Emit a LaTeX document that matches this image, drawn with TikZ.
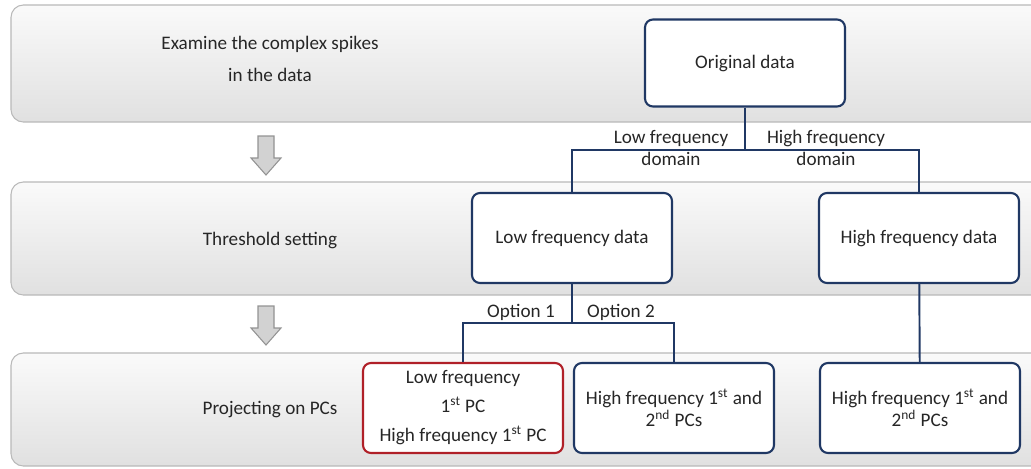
\documentclass[tikz,border=0pt]{standalone}
\usepackage{fontspec}
\setmainfont{Carlito}
\usetikzlibrary{calc}

\definecolor{navy}{RGB}{32,56,100}
\definecolor{darkred}{RGB}{176,32,40}
\definecolor{bandline}{RGB}{185,185,185}

\tikzset{
	band/.style = {draw = bandline, line width = 0.6pt, rounded corners = 7pt, top color = gray!4, bottom color = gray!24},
	box/.style = {draw = navy, line width = 1.2pt, fill = white, rounded corners = 4.5pt, minimum width = 4cm, minimum height = 1.8cm, align = center, text = black!85},
	link/.style = {draw = navy, line width = 1.1pt},
	lbl/.style = {text = black!85, align = center},
	blockarrow/.style = {draw = gray!85, line width = 0.6pt, fill = gray!35}
}

\begin{document}
\begin{tikzpicture}[x = 0.02cm, y = -0.02cm, font = \fontsize{10.9}{12.5}\selectfont]
			\useasboundingbox (0,0) rectangle (1031,468);
			\clip (0,0) rectangle (1031,468);
			
			% bands
			\draw [band] (11,5) rectangle (1050,122);
			\draw [band] (11,182) rectangle (1050,295);
			\draw [band] (11,353) rectangle (1050,466);
			
			\node [lbl] (step1) at (270,59) {Examine the complex spikes\\[5.5pt] in the data};
			\node [lbl] (step2) at (270,240) {Threshold setting};
			\node [lbl] (step3) at (270,410) {Projecting on PCs};
			
			\draw [blockarrow] (258,136) -- ++(16,0) -- ++(0,22) -- ++(7,0) -- ++(-15,17) -- ++(-15,-17) -- ++(7,0) -- cycle;
			\draw [blockarrow] (258,306) -- ++(16,0) -- ++(0,22) -- ++(7,0) -- ++(-15,17) -- ++(-15,-17) -- ++(7,0) -- cycle;
			
			% boxes
			\node [box, minimum height = 1.74cm] (orig) at (745,63) {Original data};
			\node [box] (low) at (572,238) {Low frequency data};
			\node [box] (high) at (919,238) {High frequency data};
			\node [box, draw = darkred] (opt1) at (463,408) {Low frequency\\[4pt] 1\textsuperscript{st} PC\\[4pt] High frequency 1\textsuperscript{st} PC};
			\node [box] (opt2) at (674,408) {High frequency 1\textsuperscript{st} and\\ 2\textsuperscript{nd} PCs};
			\node [box] (hpc) at (920,408) {High frequency 1\textsuperscript{st} and\\ 2\textsuperscript{nd} PCs};
			
			\coordinate (s1) at (745,150);
			\coordinate (s2) at (572,323);
			
			\draw [link] (orig) -- (s1);
			\draw [link] (low) |- (s1) -| (high);
			\draw [link] (low) -- (s2);
			\draw [link] (opt1) |- (s2) -| (opt2);
			\draw [link] (high) -- (hpc);
			
			\node [lbl] (lowdom) at (671,148) {Low frequency\\domain};
			\node [lbl] (highdom) at (826,148) {High frequency\\domain};
			\node [lbl] (o1) at (521,312) {Option 1};
			\node [lbl] (o2) at (621,312) {Option 2};
			
\end{tikzpicture}
\end{document}
